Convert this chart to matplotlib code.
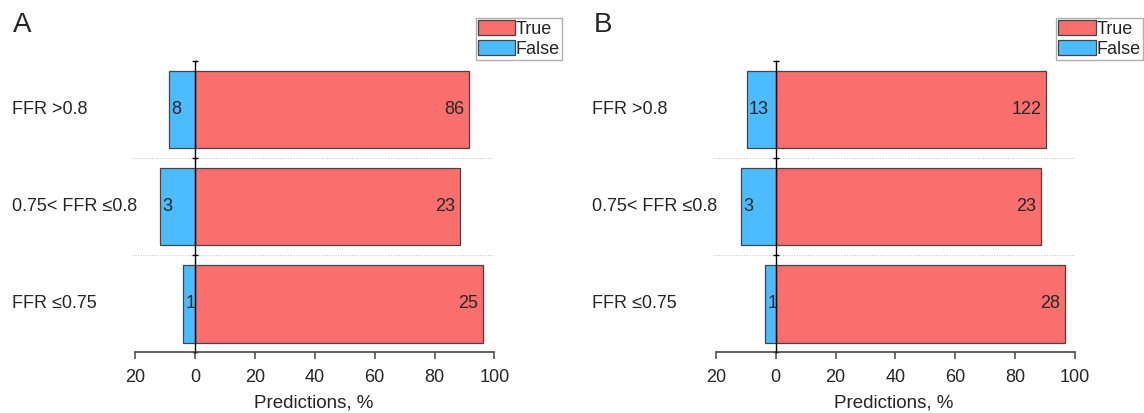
import matplotlib
matplotlib.use("Agg")
import matplotlib.pyplot as plt
import numpy as np
from matplotlib.patches import Patch
from matplotlib.ticker import FuncFormatter
from matplotlib.transforms import blended_transform_factory

plt.rcParams["font.family"] = ["Liberation Sans", "DejaVu Sans"]

# ---------------------------------------------------------------------------
# Data (counts; bars show share of each row in %)
# ---------------------------------------------------------------------------

CATEGORIES = ["FFR >0.8", "0.75< FFR \u22640.8", "FFR \u22640.75"]

A_TRUE = [86, 23, 25]
A_FALSE = [8, 3, 1]

B_TRUE = [122, 23, 28]
B_FALSE = [13, 3, 1]

X_TICKS = [-20, 0, 20, 40, 60, 80, 100]

# ---------------------------------------------------------------------------
# Style
# ---------------------------------------------------------------------------

RED = "#F96F6E"
BLUE = "#4DBBFF"
EDGE = "#444444"
TEXT = "#262626"
AXIS = "#555555"

W, H = 1144, 413
PANEL_SHIFT = 580.7


def draw_panel(fig, shift, letter, true_counts, false_counts):
    ax = fig.add_axes([(132.1 + shift) / W, 1 - 352.3 / H, 362.3 / W, 291.3 / H])

    true_counts = np.array(true_counts, dtype=float)
    false_counts = np.array(false_counts, dtype=float)
    total = true_counts + false_counts
    true_pct = true_counts / total * 100
    false_pct = false_counts / total * 100

    ypos = np.arange(len(CATEGORIES))[::-1]

    ax.barh(ypos, true_pct, height=0.8, color=RED, edgecolor=EDGE, lw=0.9, zorder=1)
    ax.barh(ypos, -false_pct, height=0.8, color=BLUE, edgecolor=EDGE, lw=0.9, zorder=1)

    for y, t, f, tc, fc in zip(ypos, true_pct, false_pct, true_counts, false_counts):
        ax.annotate(f"{int(tc)}", (t, y), xytext=(-3.2, 0), textcoords="offset points",
                    ha="right", va="center", fontsize=13, color=TEXT, zorder=4)
        ax.annotate(f"{int(fc)}", (-f, y), xytext=(1.4, 0), textcoords="offset points",
                    ha="left", va="center", fontsize=13, color=TEXT, zorder=4)

    # dotted separators between rows
    for b in [0.5, 1.5]:
        ax.axhline(b, color="#C8C8C8", lw=0.8, ls=(0, (1, 1.5)), zorder=0)

    ax.set_xlim(-21, 100)
    ax.set_ylim(-0.5, 2.5)

    for side in ["top", "right"]:
        ax.spines[side].set_visible(False)
    ax.spines["bottom"].set_bounds(-20, 100)
    ax.spines["bottom"].set_color(AXIS)
    ax.spines["bottom"].set_linewidth(1.3)
    ax.spines["left"].set_position(("data", 0))
    ax.spines["left"].set_color("black")
    ax.spines["left"].set_linewidth(1.0)
    ax.spines["left"].set_zorder(3)

    ax.set_xticks(X_TICKS)
    ax.xaxis.set_major_formatter(FuncFormatter(lambda v, _: f"{abs(int(v))}"))
    ax.tick_params(axis="x", direction="out", length=5, width=1.2, color=AXIS,
                   labelsize=13, labelcolor=TEXT, pad=7)
    ax.set_yticks([-0.5, 0.5, 1.5, 2.5])
    ax.set_yticklabels([])
    ax.tick_params(axis="y", direction="inout", length=4.5, width=1.0, color="black")

    ax.set_xlabel("Predictions, %", fontsize=13.5, color=TEXT, labelpad=6)

    trans = blended_transform_factory(fig.transFigure, ax.transData)
    for y, cat in zip(ypos, CATEGORIES):
        ax.text((11.7 + shift) / W, y, cat, transform=trans, ha="left", va="center",
                fontsize=13, color=TEXT)

    fig.text((13 + shift) / W, 1 - 32 / H, letter, fontsize=20, color=TEXT,
             ha="left", va="baseline")

    handles = [Patch(facecolor=RED, edgecolor=EDGE, lw=0.9, label="True"),
               Patch(facecolor=BLUE, edgecolor=EDGE, lw=0.9, label="False")]
    leg = ax.legend(handles=handles, loc="upper right",
                    bbox_to_anchor=((562 + shift) / W, 1 - 17.7 / H),
                    bbox_transform=fig.transFigure, fontsize=13,
                    frameon=True, fancybox=False, framealpha=1, edgecolor="#B0B0B0",
                    borderpad=0.12, borderaxespad=0, handlelength=2.05,
                    handleheight=0.95, handletextpad=0.05, labelspacing=0.1)
    leg.get_frame().set_linewidth(1.0)
    for txt in leg.get_texts():
        txt.set_color(TEXT)
    return ax


fig = plt.figure(figsize=(W / 100, H / 100), dpi=100)
fig.patch.set_facecolor("white")

draw_panel(fig, 0, "A", A_TRUE, A_FALSE)
draw_panel(fig, PANEL_SHIFT, "B", B_TRUE, B_FALSE)

fig.savefig("out.png", dpi=100, facecolor="white")
